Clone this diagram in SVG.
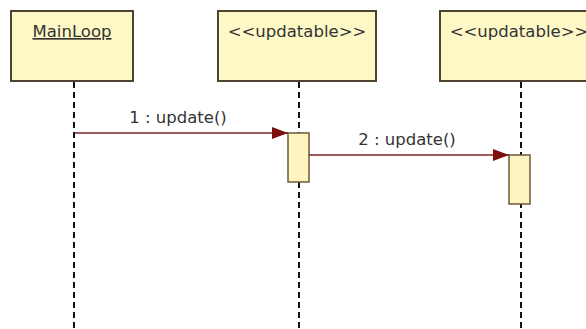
<svg xmlns="http://www.w3.org/2000/svg" width="586" height="329" viewBox="0 0 586 329">
  <style>
    .head { fill: #fdf8c6; stroke: #4d4330; stroke-width: 2; }
    .act { fill: #fdf4bf; stroke: #6b5a3a; stroke-width: 1.5; }
    .life { stroke: #111; stroke-width: 2; stroke-dasharray: 6 4; fill: none; }
    .msg { stroke: #7a2222; stroke-width: 1.5; fill: none; }
    .label { font-family: "DejaVu Sans", "Liberation Sans", sans-serif; font-size: 16.5px; fill: #333; }
  </style>
  <defs>
    <marker id="arrow" viewBox="0 0 16 12" refX="16" refY="6" markerWidth="16" markerHeight="12" markerUnits="userSpaceOnUse" orient="auto">
      <path d="M0,0 L16,6 L0,12 Z" fill="#7d0f0f"/>
    </marker>
  </defs>
  <rect width="586" height="329" fill="#ffffff"/>

  <!-- lifelines -->
  <g id="lifelines">
    <line class="life" x1="74" y1="82" x2="74" y2="329"/>
    <line class="life" x1="299" y1="82" x2="299" y2="329"/>
    <line class="life" x1="521" y1="82" x2="521" y2="329"/>
  </g>

  <g id="mainloop">
    <rect class="head" x="11" y="11" width="122" height="70"/>
    <text class="label" x="72" y="37" text-anchor="middle" text-decoration="underline">MainLoop</text>
  </g>

  <g id="updatable1">
    <rect class="head" x="218" y="11" width="158" height="70"/>
    <text class="label" x="297" y="37" text-anchor="middle">&lt;&lt;updatable&gt;&gt;</text>
  </g>

  <g id="updatable2">
    <rect class="head" x="440" y="11" width="158" height="70"/>
    <text class="label" x="519" y="37" text-anchor="middle">&lt;&lt;updatable&gt;&gt;</text>
  </g>

  <g id="activation1">
    <rect class="act" x="288" y="133" width="21" height="49"/>
  </g>
  <g id="activation2">
    <rect class="act" x="509" y="155" width="21" height="49"/>
  </g>

  <!-- messages -->
  <g id="connectors">
    <line class="msg" x1="75" y1="133" x2="288" y2="133" marker-end="url(#arrow)"/>
    <text class="label" x="178" y="123" text-anchor="middle">1 : update()</text>
    <line class="msg" x1="309" y1="155" x2="509" y2="155" marker-end="url(#arrow)"/>
    <text class="label" x="407" y="145" text-anchor="middle">2 : update()</text>
  </g>
</svg>
